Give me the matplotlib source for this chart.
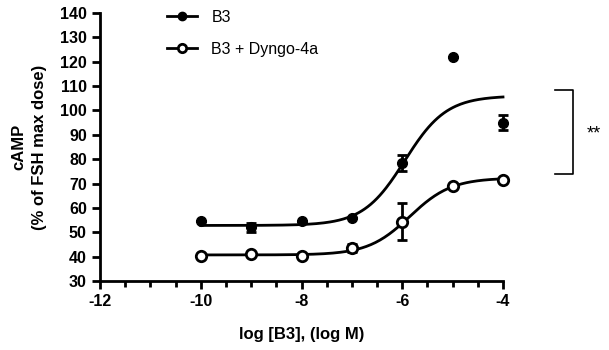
import numpy as np
import matplotlib
matplotlib.use("Agg")
import matplotlib.pyplot as plt
from matplotlib.ticker import MultipleLocator

plt.rcParams['font.family'] = ['Liberation Sans', 'DejaVu Sans']
plt.rcParams['axes.unicode_minus'] = False

# data
log_dose = [-10, -9, -8, -7, -6, -5, -4]
b3_mean = [54.5, 52.0, 54.5, 56.0, 78.3, 122.0, 95.0]
b3_err = [0, 2.0, 0, 0, 3.3, 0, 3.2]
dyngo_mean = [40.3, 41.0, 40.4, 43.5, 54.4, 69.0, 71.6]
dyngo_err = [0, 0, 0, 1.8, 7.5, 0, 0]

# sigmoid fit parameters (bottom, top, logEC50, hill)
b3_fit = (52.8, 106.0, -5.95, 1.05)
dyngo_fit = (40.7, 72.3, -5.85, 1.05)

x_ticks = [-12, -10, -8, -6, -4]
y_ticks = list(range(30, 141, 10))


def sigmoid(x, bottom, top, logec50, hill):
    return bottom + (top - bottom) / (1 + 10 ** ((logec50 - x) * hill))


fig = plt.figure(figsize=(6.09, 3.5), dpi=100)
ax = fig.add_axes([100 / 609, 1 - 281 / 350, 403 / 609, 268 / 350])

xs = np.linspace(-10, -4, 200)
ax.plot(xs, sigmoid(xs, *b3_fit), color='black', lw=2, clip_on=False)
ax.plot(xs, sigmoid(xs, *dyngo_fit), color='black', lw=2, clip_on=False)

eb1 = ax.errorbar(log_dose, b3_mean, yerr=b3_err, fmt='o', color='black', ms=7,
                  capsize=3.5, elinewidth=2, capthick=2, zorder=3)
eb2 = ax.errorbar(log_dose, dyngo_mean, yerr=dyngo_err, fmt='o', color='black',
                  mfc='white', mec='black', mew=2, ms=7.5,
                  capsize=3.5, elinewidth=2, capthick=2, zorder=3)
for eb in (eb1, eb2):
    for art in eb.get_children():
        art.set_clip_on(False)

# legend handles
h1, = ax.plot([], [], '-o', color='black', lw=2, ms=6)
h2, = ax.plot([], [], '-o', color='black', lw=2, ms=6, mfc='white', mew=2)
ax.legend([h1, h2], ['B3', 'B3 + Dyngo-4a'], loc='upper left',
          bbox_to_anchor=(0.13, 1.065), frameon=False, fontsize=11.5,
          handlelength=1.9, labelspacing=1.05, handletextpad=0.9)

ax.set_xlim(-12, -4)
ax.set_ylim(30, 140)
ax.set_xticks(x_ticks)
ax.set_yticks(y_ticks)
ax.xaxis.set_minor_locator(MultipleLocator(0.5))

for s in ['top', 'right']:
    ax.spines[s].set_visible(False)
for s in ['left', 'bottom']:
    ax.spines[s].set_linewidth(2)
ax.tick_params(which='major', length=6, width=2, labelsize=11.5)
ax.tick_params(which='minor', length=4, width=2)
for lab in ax.get_xticklabels() + ax.get_yticklabels():
    lab.set_fontweight('bold')

ax.set_xlabel('log [B3], (log M)', fontsize=12, fontweight='bold', labelpad=13)
ax.set_ylabel('cAMP\n(% of FSH max dose)', fontsize=12, fontweight='bold',
              labelpad=9, linespacing=1.5)

# significance bracket
line_x = [555, 573, 573, 555]
line_y = [90, 90, 174, 174]
fig.add_artist(plt.Line2D([x / 609 for x in line_x],
                          [1 - y / 350 for y in line_y],
                          color='black', lw=1.2))
fig.text(587 / 609, 1 - 134 / 350, '**', fontsize=13, ha='left', va='center')

fig.savefig('out.png', dpi=100)
